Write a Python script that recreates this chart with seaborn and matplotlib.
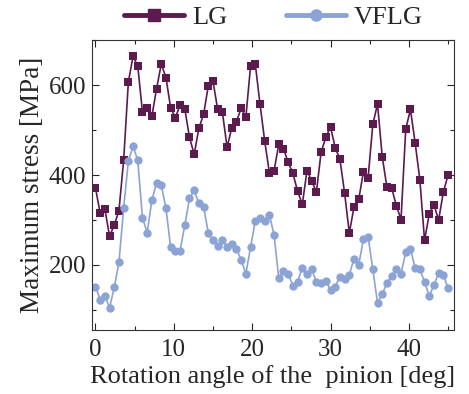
import numpy as np
import pandas as pd
import matplotlib
matplotlib.use("Agg")
import matplotlib.pyplot as plt
import seaborn as sns
from matplotlib.ticker import MultipleLocator

angle = [round(i * 0.6, 1) for i in range(76)]
lg = [372, 315, 325, 264, 289, 321, 433, 607, 664, 643, 540, 549, 531, 592, 647, 617, 549, 528, 555, 547,
      484, 446, 504, 535, 598, 609, 546, 540, 462, 505, 519, 549, 529, 643, 647, 558, 476, 405, 410, 469,
      459, 428, 404, 364, 335, 410, 387, 362, 451, 484, 507, 461, 435, 360, 271, 329, 346, 407, 394, 513,
      558, 441, 373, 372, 332, 301, 502, 546, 472, 390, 255, 313, 334, 300, 362, 400]
vflg = [152, 123, 131, 105, 150, 206, 327, 431, 464, 433, 305, 272, 344, 383, 378, 326, 239, 231, 232, 288,
        348, 366, 337, 329, 272, 255, 242, 256, 240, 247, 236, 211, 181, 240, 298, 304, 298, 312, 266, 170,
        186, 180, 154, 163, 194, 181, 190, 163, 159, 165, 144, 152, 174, 169, 178, 214, 200, 257, 262, 190,
        116, 135, 160, 175, 190, 181, 228, 236, 193, 190, 163, 131, 155, 182, 178, 148]
series_names = ["LG", "VFLG"]
colors = {"LG": "#5c1a4e", "VFLG": "#8ca3d6"}

df = pd.DataFrame({
    "angle": angle * 2,
    "stress": lg + vflg,
    "series": ["LG"] * len(lg) + ["VFLG"] * len(vflg),
})

sns.set_style("ticks")
plt.rcParams["font.family"] = ["Liberation Serif", "DejaVu Serif"]
plt.rcParams["mathtext.fontset"] = "stix"

fig = plt.figure(figsize=(4.69, 3.94), dpi=100)
ax = fig.add_axes([0.196, 0.162, 0.771, 0.736])

sns.lineplot(data=df, x="angle", y="stress", hue="series", style="series",
             palette=colors, markers={"LG": "s", "VFLG": "o"}, dashes=False,
             markersize=6, markeredgewidth=0, linewidth=1.2, ax=ax, legend=False)

ax.set_xlim(-0.45, 45.7)
ax.set_ylim(55, 700)
ax.xaxis.set_major_locator(MultipleLocator(10))
ax.xaxis.set_minor_locator(MultipleLocator(5))
ax.yaxis.set_major_locator(MultipleLocator(200))
ax.yaxis.set_minor_locator(MultipleLocator(100))
ax.tick_params(which="both", direction="in", top=True, right=True, labelsize=18, pad=4)
ax.tick_params(axis="x", which="both", pad=6)
ax.tick_params(which="major", length=5, width=0.8)
ax.tick_params(which="minor", length=3, width=0.8)
for s in ax.spines.values():
    s.set_linewidth(0.8)
    s.set_color("#333333")

ax.set_xlabel("Rotation angle of the  pinion [deg]", fontsize=19, labelpad=3)
ax.set_ylabel("Maximum stress [MPa]", fontsize=19.5, labelpad=3)

handles = [
    plt.Line2D([], [], color=colors["LG"], marker="s", markersize=8, linewidth=3.5),
    plt.Line2D([], [], color=colors["VFLG"], marker="o", markersize=8, linewidth=3.5),
]
fig.legend(handles, series_names, loc="upper center", bbox_to_anchor=(0.583, 1.045), ncol=2,
           frameon=False, fontsize=19, handlelength=2.3, columnspacing=2.2, handletextpad=0.3)

fig.savefig("out.png", dpi=100)
